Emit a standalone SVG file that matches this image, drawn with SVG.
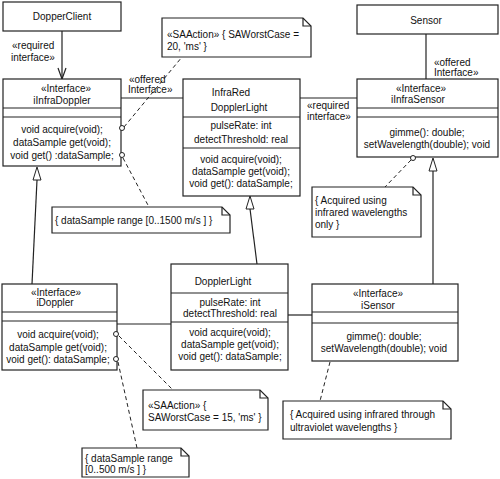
<svg xmlns="http://www.w3.org/2000/svg" width="500" height="479" viewBox="0 0 500 479">
<style>
.b{fill:#fff;stroke:#222;stroke-width:1.2}
.l{fill:none;stroke:#222;stroke-width:1.2}
.d{fill:none;stroke:#222;stroke-width:1;stroke-dasharray:4 3}
.o{fill:#fff;stroke:#222;stroke-width:1}
text{font-family:"Liberation Sans",Arial,sans-serif;font-size:10px;fill:#111}
.c{text-anchor:middle}
</style>
<rect width="500" height="479" fill="#fff"/>
<g id="connectors">
<line class="l" x1="62" y1="31" x2="62" y2="79"/>
<path class="l" d="M58,68 L62,79 L66,68"/>
<line class="l" x1="121" y1="98" x2="183" y2="98"/>
<line class="l" x1="300" y1="98" x2="357" y2="98"/>
<line class="l" x1="426" y1="34" x2="426" y2="79"/>
<line class="l" x1="433" y1="171" x2="433" y2="284"/>
<path class="o" d="M433,158 L437,171 L429,171 Z"/>
<line class="l" x1="37" y1="180" x2="32" y2="284"/>
<path class="o" d="M37,167 L41,180 L33,180 Z"/>
<line class="l" x1="250" y1="209" x2="257" y2="264"/>
<path class="o" d="M250,196 L254,209 L246,209 Z"/>
<line class="l" x1="117" y1="324" x2="171" y2="324"/>
<line class="l" x1="288" y1="315" x2="312" y2="315"/>
<line class="d" x1="124" y1="127" x2="182" y2="57"/>
<line class="d" x1="123" y1="158" x2="149" y2="207"/>
<line class="d" x1="411" y1="160" x2="385" y2="187"/>
<line class="d" x1="119" y1="336" x2="173" y2="390"/>
<line class="d" x1="118" y1="362" x2="137" y2="448"/>
<line class="d" x1="330" y1="362" x2="320" y2="401"/>
</g>
<g id="label-req1"><text x="12" y="49">«required</text><text x="11" y="61">interface»</text></g>
<g id="label-off1"><text x="129" y="83">«offered</text><text x="128" y="93">Interface»</text></g>
<g id="label-req2"><text x="307" y="109">«required</text><text x="307" y="120">interface»</text></g>
<g id="label-off2"><text x="434" y="66">«offered</text><text x="434" y="76">Interface»</text></g>
<g id="DopperClient">
<rect class="b" x="3" y="2" width="118" height="29"/>
<text class="c" x="62" y="20">DopperClient</text>
</g>
<g id="iInfraDoppler">
<rect class="b" x="3" y="79" width="118" height="87"/>
<line class="l" x1="3" y1="108" x2="121" y2="108"/>
<line class="l" x1="3" y1="117" x2="121" y2="117"/>
<text class="c" x="66" y="92">«Interface»</text>
<text class="c" x="62" y="104">iInfraDoppler</text>
<text class="c" x="62" y="133">void acquire(void);</text>
<text class="c" x="62" y="146">dataSample get(void);</text>
<text class="c" x="62" y="159">void get() :dataSample;</text>
<circle class="o" cx="122" cy="128" r="2.5"/>
<circle class="o" cx="122" cy="155" r="2.5"/>
</g>
<g id="InfraRedDopplerLight">
<rect class="b" x="183" y="79" width="117" height="117"/>
<line class="l" x1="183" y1="117" x2="300" y2="117"/>
<line class="l" x1="183" y1="148" x2="300" y2="148"/>
<text class="c" x="231" y="96">InfraRed</text>
<text class="c" x="239" y="111">DopplerLight</text>
<text class="c" x="241" y="129">pulseRate: int</text>
<text class="c" x="241" y="143">detectThreshold: real</text>
<text class="c" x="241" y="163">void acquire(void);</text>
<text class="c" x="241" y="175">dataSample get(void);</text>
<text class="c" x="241" y="187">void get(): dataSample;</text>
</g>
<g id="Sensor">
<rect class="b" x="357" y="5" width="141" height="29"/>
<text class="c" x="426" y="24">Sensor</text>
</g>
<g id="iInfraSensor">
<rect class="b" x="357" y="79" width="141" height="78"/>
<line class="l" x1="357" y1="108" x2="498" y2="108"/>
<line class="l" x1="357" y1="117" x2="498" y2="117"/>
<text class="c" x="421" y="92">«Interface»</text>
<text class="c" x="418" y="103">iInfraSensor</text>
<text class="c" x="427" y="136">gimme(): double;</text>
<text class="c" x="427" y="148">setWavelength(double); void</text>
<circle class="o" cx="413" cy="158" r="2.5"/>
</g>
<g id="note-saaction1">
<path class="b" d="M162,18 H303 L311,26 V57 H162 Z"/>
<path class="l" d="M303,18 V26 H311"/>
<text x="167" y="38">«SAAction» { SAWorstCase =</text>
<text x="167" y="50">20, 'ms' }</text>
</g>
<g id="note-range1">
<path class="b" d="M52,207 H222 L230,215 V233 H52 Z"/>
<path class="l" d="M222,207 V215 H230"/>
<text x="55" y="224">{ dataSample range [0..1500 m/s ] }</text>
</g>
<g id="note-acq1">
<path class="b" d="M312,187 H413 L421,195 V237 H312 Z"/>
<path class="l" d="M413,187 V195 H421"/>
<text x="315" y="204">{ Acquired using</text>
<text x="315" y="216">infrared wavelengths</text>
<text x="315" y="228">only }</text>
</g>
<g id="iDoppler">
<rect class="b" x="2" y="284" width="115" height="86"/>
<line class="l" x1="2" y1="312" x2="117" y2="312"/>
<line class="l" x1="2" y1="321" x2="117" y2="321"/>
<text class="c" x="56" y="296">«Interface»</text>
<text class="c" x="55" y="306">iDoppler</text>
<text class="c" x="58" y="338">void acquire(void);</text>
<text class="c" x="58" y="351">dataSample get(void);</text>
<text class="c" x="58" y="363">void get(): dataSample;</text>
<circle class="o" cx="116" cy="334" r="2.5"/>
<circle class="o" cx="116" cy="359" r="2.5"/>
</g>
<g id="DopplerLight">
<rect class="b" x="171" y="264" width="117" height="106"/>
<line class="l" x1="171" y1="293" x2="288" y2="293"/>
<line class="l" x1="171" y1="322" x2="288" y2="322"/>
<text class="c" x="223" y="285">DopplerLight</text>
<text class="c" x="230" y="306">pulseRate: int</text>
<text class="c" x="230" y="317">detectThreshold: real</text>
<text class="c" x="230" y="336">void acquire(void);</text>
<text class="c" x="230" y="348">dataSample get(void);</text>
<text class="c" x="230" y="360">void get(): dataSample;</text>
</g>
<g id="iSensor">
<rect class="b" x="312" y="284" width="146" height="77"/>
<line class="l" x1="312" y1="312" x2="458" y2="312"/>
<line class="l" x1="312" y1="323" x2="458" y2="323"/>
<text class="c" x="378" y="297">«Interface»</text>
<text class="c" x="378" y="309">iSensor</text>
<text class="c" x="384" y="340">gimme(): double;</text>
<text class="c" x="384" y="352">setWavelength(double); void</text>
</g>
<g id="note-saaction2">
<path class="b" d="M143,390 H260 L268,398 V430 H143 Z"/>
<path class="l" d="M260,390 V398 H268"/>
<text x="148" y="409">«SAAction» {</text>
<text x="148" y="421">SAWorstCase = 15, 'ms' }</text>
</g>
<g id="note-range2">
<path class="b" d="M82,448 H181 L189,456 V477 H82 Z"/>
<path class="l" d="M181,448 V456 H189"/>
<text x="85" y="462">{ dataSample range</text>
<text x="85" y="473">[0..500 m/s ] }</text>
</g>
<g id="note-acq2">
<path class="b" d="M283,401 H443 L451,409 V439 H283 Z"/>
<path class="l" d="M443,401 V409 H451"/>
<text x="290" y="418">{ Acquired using infrared through</text>
<text x="290" y="431">ultraviolet wavelengths }</text>
</g>
</svg>
